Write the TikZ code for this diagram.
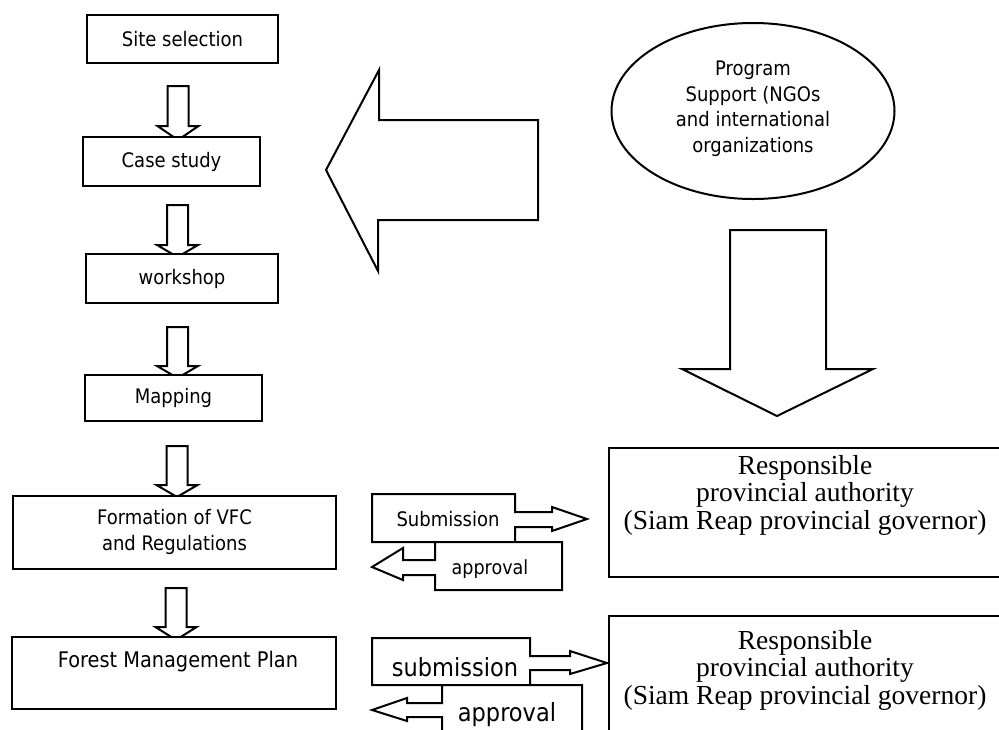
\documentclass[tikz,border=0pt]{standalone}
\usepackage{fontspec}
\setmainfont{DejaVu Sans Condensed}
\newfontfamily\timesf{Liberation Serif}
\usetikzlibrary{shapes.geometric}
\newcommand\blkdown[4]{%
  \draw[shp] ({#1-10.5},#2) -- ({#1+10.5},#2) -- ({#1+10.5},#3) -- ({#1+20.5},#3)
    -- (#1,#4) -- ({#1-20.5},#3) -- ({#1-10.5},#3) -- cycle;}
\begin{document}
\begin{tikzpicture}[x=1pt,y=-1pt,
  shp/.style={draw=black, line width=2pt, line join=miter, fill=white},
  box/.style={shp, rectangle, inner sep=0pt, align=center, font=\fontsize{20}{24}\selectfont},
  lbl/.style={inner sep=0pt, align=center},
  sans/.style={font=\fontsize{20}{24}\selectfont},
  serif/.style={font=\timesf\fontsize{27.5}{27.5}\selectfont},
]
\useasboundingbox (0,0) rectangle (999,729);
\clip (0,0) rectangle (999,729);

% small block arrows of the left column
\blkdown{178}{86}{126}{140}
\blkdown{177.5}{205}{245}{257}
\blkdown{177.5}{327}{366}{378}
\blkdown{177}{446}{485}{497}
\blkdown{176}{588}{627}{640}

% left column boxes
\node[box, minimum width=191, minimum height=48] (site) at (182.5,39) {Site selection};
\node[box, minimum width=177, minimum height=49] (case) at (171.5,161.5) {Case study};
\node[box, minimum width=192, minimum height=49] (work) at (182,278.5) {workshop};
\node[box, minimum width=177, minimum height=46] (map) at (173.5,398) {Mapping};
\node[box, minimum width=323, minimum height=73, font=\fontsize{20}{26}\selectfont] (vfc) at (174.5,532) {Formation of VFC\\and Regulations};
\node[box, minimum width=324, minimum height=72] (fmp) at (174,673) {};
\node[lbl, font=\fontsize{21.5}{25}\selectfont] (fmptext) at (178,662) {Forest Management Plan};

% big left arrow
\draw[shp] (538,120) -- (379,120) -- (379,70) -- (326,170) -- (378,271) -- (378,220) -- (538,220) -- cycle;

% ellipse
\node[shp, ellipse, minimum width=283, minimum height=176, inner sep=0pt] (prog) at (753,111) {};
\node[lbl, font=\fontsize{20}{25.5}\selectfont] (progtext) at (753,109) {Program\\Support (NGOs\\and international\\organizations};

% big down arrow
\draw[shp] (730,230) -- (826,230) -- (826,369) -- (873,369) -- (777,416) -- (682,369) -- (730,369) -- cycle;

% right authority boxes
\node[shp, rectangle, anchor=north west, minimum width=420, minimum height=129, inner sep=0pt] (auth1) at (608,447) {};
\node[lbl, serif] (auth1text) at (805,495) {Responsible\\provincial authority\\(Siam Reap provincial governor)};
\node[shp, rectangle, anchor=north west, minimum width=420, minimum height=200, inner sep=0pt] (auth2) at (608,615) {};
\node[lbl, serif] (auth2text) at (805,670) {Responsible\\provincial authority\\(Siam Reap provincial governor)};

% submission / approval, first pair
\draw[shp] (372,494) -- (515,494) -- (515,512) -- (552,512) -- (552,507) -- (587,519)
  -- (552,531) -- (552,527) -- (515,527) -- (515,542) -- (372,542) -- cycle;
\node[lbl, sans] (sub1) at (448,519) {Submission};
\draw[shp] (435,542) -- (562,542) -- (562,590) -- (435,590) -- (435,575) -- (403,575)
  -- (403,580) -- (372,567) -- (403,548) -- (403,560) -- (435,560) -- cycle;
\node[lbl, font=\fontsize{19.5}{23}\selectfont] (app1) at (490,569) {approval};

% submission / approval, second pair
\draw[shp] (372,638) -- (530,638) -- (530,656) -- (570,656) -- (570,651) -- (607,663)
  -- (570,674) -- (570,670) -- (530,670) -- (530,685) -- (372,685) -- cycle;
\node[lbl, font=\fontsize{25}{30}\selectfont] (sub2) at (455,667) {submission};
\draw[shp] (442,685) -- (582,685) -- (582,760) -- (442,760) -- (442,717) -- (407,717)
  -- (407,721) -- (372,710) -- (407,698) -- (407,703) -- (442,703) -- cycle;
\node[lbl, font=\fontsize{25}{30}\selectfont] (app2) at (507,715) {approval};
\end{tikzpicture}
\end{document}
